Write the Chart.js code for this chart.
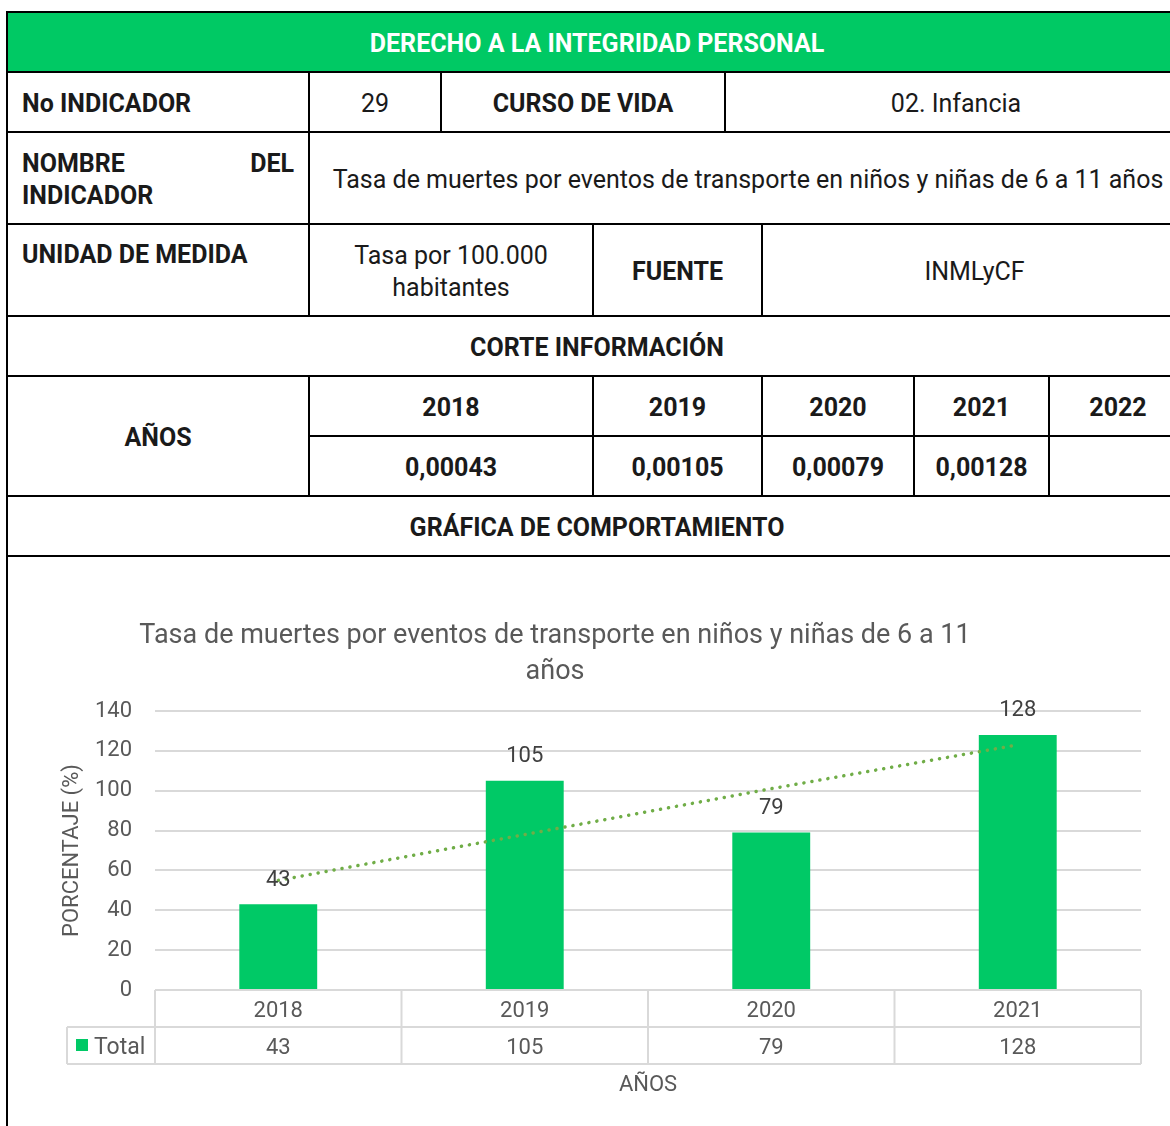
<!DOCTYPE html>
<html>
<head>
<meta charset="utf-8">
<script src="https://cdn.jsdelivr.net/npm/chart.js@4.4.0/dist/chart.umd.min.js"></script>
<style>
  html, body { margin: 0; padding: 0; background: #fff; width: 1170px; height: 1126px; overflow: hidden; }
  body { position: relative; font-family: Roboto, "Noto Sans", sans-serif; }
  table.ficha { position: absolute; left: 6px; top: 11px; border-collapse: collapse; table-layout: fixed; width: 1180px; }
  table.ficha td { border: 2px solid #000; text-align: center; vertical-align: middle; font-size: 25px; color: #1a1a1a; padding: 4px 14px 0 14px; line-height: 32px; }
  td.b { font-weight: bold; }
  td.l { text-align: left !important; }
  td.head { background: #00c964; color: #fff !important; font-weight: bold; }
  td.just { text-align: justify !important; text-align-last: justify; }
  td.top { vertical-align: top !important; padding-top: 14px !important; }
  #chartBox { position: absolute; left: 8px; top: 558px; width: 1162px; height: 568px; }
</style>
</head>
<body>
<table class="ficha">
  <colgroup>
    <col style="width:302px"><col style="width:132px"><col style="width:152px"><col style="width:132px">
    <col style="width:37px"><col style="width:152px"><col style="width:135px"><col style="width:138px">
  </colgroup>
  <tr style="height:60px"><td class="head" colspan="8">DERECHO A LA INTEGRIDAD PERSONAL</td></tr>
  <tr style="height:60px">
    <td class="b l">No INDICADOR</td><td>29</td><td class="b" colspan="2">CURSO DE VIDA</td><td colspan="4">02. Infancia</td>
  </tr>
  <tr style="height:92px">
    <td class="b just">NOMBRE DEL INDICADOR</td>
    <td colspan="7" style="padding:4px 0 0 0">Tasa de muertes por eventos de transporte en niños y niñas de 6 a 11 años</td>
  </tr>
  <tr style="height:92px">
    <td class="b l top">UNIDAD DE MEDIDA</td><td colspan="2">Tasa por 100.000 habitantes</td>
    <td class="b" colspan="2">FUENTE</td><td colspan="3">INMLyCF</td>
  </tr>
  <tr style="height:60px"><td class="b" colspan="8">CORTE INFORMACIÓN</td></tr>
  <tr style="height:60px">
    <td class="b" rowspan="2">AÑOS</td><td class="b" colspan="2">2018</td><td class="b" colspan="2">2019</td>
    <td class="b">2020</td><td class="b">2021</td><td class="b">2022</td>
  </tr>
  <tr style="height:60px">
    <td class="b" colspan="2">0,00043</td><td class="b" colspan="2">0,00105</td>
    <td class="b">0,00079</td><td class="b">0,00128</td><td class="b"></td>
  </tr>
  <tr style="height:60px"><td class="b" colspan="8">GRÁFICA DE COMPORTAMIENTO</td></tr>
  <tr style="height:620px"><td colspan="8"></td></tr>
</table>

<div id="chartBox"><canvas id="grafico"></canvas></div>

<script>
// Datos de la gráfica
const anios = ['2018', '2019', '2020', '2021'];
const totales = [43, 105, 79, 128];
// Línea de tendencia
const tendencia = [55, 78, 101, 123];
const tituloLineas = ['Tasa de muertes por eventos de transporte en niños y niñas de 6 a 11', 'años'];
const nombreSerie = 'Total';
const tituloEjeY = 'PORCENTAJE (%)';
const tituloEjeX = 'AÑOS';

const VERDE = '#00c966';
const GRIS = '#595959';
const LINEA = '#d9d9d9';
const FUENTE = 'Roboto, "Noto Sans", sans-serif';

// Plugin: título, etiquetas de datos y tabla de datos bajo el eje
const decoracion = {
  id: 'decoracion',
  afterDatasetsDraw(chart) {
    const ctx = chart.ctx;
    const meta = chart.getDatasetMeta(1);
    ctx.save();
    ctx.font = '22px ' + FUENTE;
    ctx.fillStyle = '#404040';
    ctx.textAlign = 'center';
    ctx.textBaseline = 'middle';
    meta.data.forEach((bar, i) => {
      ctx.fillText(String(totales[i]), bar.x, bar.y - 24);
    });
    ctx.restore();
  },
  afterDraw(chart) {
    const { ctx, chartArea } = chart;
    const x = chart.scales.x;
    const w = (chartArea.right - chartArea.left) / anios.length;
    const top = chartArea.bottom;
    const rowH = 37;
    ctx.save();

    // titulo
    ctx.font = '27px ' + FUENTE;
    ctx.fillStyle = GRIS;
    ctx.textAlign = 'center';
    ctx.textBaseline = 'middle';
    tituloLineas.forEach((t, i) => ctx.fillText(t, 547, 78 + i * 36));

    // tabla de datos
    ctx.strokeStyle = LINEA;
    ctx.lineWidth = 2;
    const legLeft = 59;
    ctx.beginPath();
    ctx.moveTo(chartArea.left, top); ctx.lineTo(chartArea.right, top);
    ctx.moveTo(legLeft, top + rowH); ctx.lineTo(chartArea.right, top + rowH);
    ctx.moveTo(legLeft, top + 2 * rowH); ctx.lineTo(chartArea.right, top + 2 * rowH);
    ctx.moveTo(legLeft, top + rowH); ctx.lineTo(legLeft, top + 2 * rowH);
    for (let i = 0; i <= anios.length; i++) {
      const px = i < anios.length ? x.getPixelForValue(i) - w / 2 : x.getPixelForValue(i - 1) + w / 2;
      ctx.moveTo(px, top); ctx.lineTo(px, top + 2 * rowH);
    }
    ctx.stroke();

    ctx.font = '22px ' + FUENTE;
    ctx.fillStyle = GRIS;
    anios.forEach((a, i) => {
      const cx = x.getPixelForValue(i);
      ctx.fillText(a, cx, top + rowH / 2 + 3);
      ctx.fillText(String(totales[i]), cx, top + rowH * 1.5 + 3);
    });
    // leyenda
    ctx.fillStyle = VERDE;
    ctx.fillRect(68, top + rowH + 12, 12, 12);
    ctx.fillStyle = GRIS;
    ctx.textAlign = 'left';
    ctx.font = '23px ' + FUENTE;
    ctx.fillText(nombreSerie, 86, top + rowH * 1.5 + 3);

    // titulo eje X
    ctx.font = '22px ' + FUENTE;
    ctx.textAlign = 'center';
    ctx.fillText(tituloEjeX, (chartArea.left + chartArea.right) / 2, top + 2 * rowH + 21);
    ctx.restore();
  }
};

new Chart(document.getElementById('grafico'), {
  data: {
    labels: anios,
    datasets: [
      {
        type: 'line',
        label: 'Tendencia',
        data: tendencia,
        borderColor: '#70ad47',
        borderWidth: 3.5,
        borderDash: [0.1, 8],
        borderCapStyle: 'round',
        pointRadius: 0,
        fill: false,
        tension: 0,
        order: 0
      },
      {
        type: 'bar',
        label: nombreSerie,
        data: totales,
        backgroundColor: VERDE,
        categoryPercentage: 1,
        barPercentage: 0.316,
        order: 1
      }
    ]
  },
  options: {
    responsive: true,
    maintainAspectRatio: false,
    animation: false,
    layout: { padding: { left: 0, top: 153, right: 29, bottom: 136 } },
    plugins: { legend: { display: false }, title: { display: false }, tooltip: { enabled: false } },
    scales: {
      x: { display: false, offset: true },
      y: {
        min: 0, max: 140,
        ticks: { stepSize: 20, padding: 23, color: GRIS, font: { size: 22, family: FUENTE } },
        grid: { color: LINEA, lineWidth: 2, drawTicks: false },
        border: { display: false },
        title: { display: true, text: tituloEjeY, color: GRIS, font: { size: 22, family: FUENTE }, padding: { top: 51, bottom: 0 } },
        afterFit(scale) { scale.width = 147; }
      }
    }
  },
  plugins: [decoracion]
});
</script>
</body>
</html>
